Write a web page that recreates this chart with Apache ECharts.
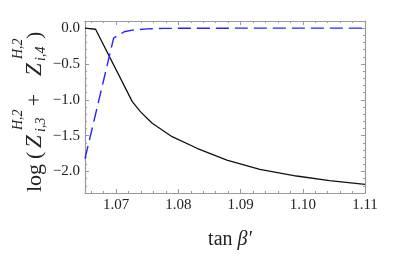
<!DOCTYPE html>
<html>
<head>
<meta charset="utf-8">
<script src="https://cdn.jsdelivr.net/npm/echarts@6/dist/echarts.min.js"></script>
<style>
html,body{margin:0;padding:0;background:#fff;}
#chart{width:399px;height:265px;}
</style>
</head>
<body>
<div id="chart"></div>
<script>
// ---- data ----
var blackX = [1.065, 1.0667, 1.0726, 1.0739, 1.0758, 1.0790, 1.0830, 1.0878, 1.0931, 1.0990, 1.1043, 1.1100];
var blackY = [0.0, -0.015, -1.025, -1.165, -1.327, -1.514, -1.676, -1.840, -1.970, -2.063, -2.128, -2.180];
var blueX = [1.065, 1.0673, 1.0696, 1.0704, 1.0713, 1.0726, 1.0750, 1.0776, 1.0820, 1.0900, 1.1000, 1.1100];
var blueY = [-1.82, -0.98, -0.14, -0.094, -0.05, -0.028, -0.010, -0.003, -0.001, 0.0, 0.0, 0.0];
var xMajorTicks = [1.07, 1.08, 1.09, 1.10, 1.11];
var xTickLabels = ['1.07', '1.08', '1.09', '1.10', '1.11'];
var yMajorTicks = [0.0, -0.5, -1.0, -1.5, -2.0];
var yTickLabels = ['0.0', '\u22120.5', '\u22121.0', '\u22121.5', '\u22122.0'];
var xRange = [1.065, 1.11];
var yRange = [-2.3, 0.1];

// minor tick positions (axis decoration)
var xMinorTicks = [];
for (var i = 533; i <= 555; i++) xMinorTicks.push(+(i * 0.002).toFixed(3));
var yMinorTicks = [];
for (var j = -23; j <= 1; j++) yMinorTicks.push(+(j * 0.1).toFixed(1));

function zip(a, b) { return a.map(function (v, k) { return [v, b[k]]; }); }

var frameColor = '#9a9a9a';
var textColor = '#222';
var serifFont = '"Liberation Serif", serif';

function xAxisDef(pos, ticks, len, showLine, showLabel) {
  return {
    type: 'value', position: pos, min: xRange[0], max: xRange[1],
    axisLine: { show: showLine, onZero: false, lineStyle: { color: frameColor, width: 1.2 } },
    axisTick: { show: true, inside: true, length: len, customValues: ticks, lineStyle: { color: frameColor, width: 1 } },
    axisLabel: {
      show: showLabel, customValues: xMajorTicks, margin: 5,
      color: textColor, fontFamily: 'Liberation Serif', fontSize: 15,
      formatter: function (v) {
        var k = xMajorTicks.findIndex(function (t) { return Math.abs(t - v) < 1e-6; });
        return k >= 0 ? xTickLabels[k] : '';
      }
    },
    splitLine: { show: false }, minorTick: { show: false }
  };
}
function yAxisDef(pos, ticks, len, showLine, showLabel) {
  return {
    type: 'value', position: pos, min: yRange[0], max: yRange[1],
    axisLine: { show: showLine, onZero: false, lineStyle: { color: frameColor, width: 1.2 } },
    axisTick: { show: true, inside: true, length: len, customValues: ticks, lineStyle: { color: frameColor, width: 1 } },
    axisLabel: {
      show: showLabel, customValues: yMajorTicks, margin: 5,
      color: textColor, fontFamily: 'Liberation Serif', fontSize: 15,
      formatter: function (v) {
        var k = yMajorTicks.findIndex(function (t) { return Math.abs(t - v) < 1e-6; });
        return k >= 0 ? yTickLabels[k] : '';
      }
    },
    splitLine: { show: false }, minorTick: { show: false }
  };
}

var chart = echarts.init(document.getElementById('chart'), null, { renderer: 'canvas' });

var baseY = 0;
var supY = -19.5, subY = 4;
function t(str, x, y, size, italic, align) {
  return {
    type: 'text', x: x, y: y,
    style: {
      text: str, fill: textColor,
      font: (italic ? 'italic ' : '') + size + 'px ' + serifFont,
      textAlign: align || 'left', textVerticalAlign: 'bottom', verticalAlign: 'bottom'
    }
  };
}
// bottom-aligned text: shift y by descent so baseline sits at y
function bt(str, x, y, size, italic, align) { return t(str, x, y + size * 0.22, size, italic, align); }

var option = {
  animation: false,
  backgroundColor: '#fff',
  grid: { left: 85, right: 34, top: 21, bottom: 72, containLabel: false, outerBoundsMode: 'none' },
  xAxis: [
    xAxisDef('bottom', xMajorTicks, 4, true, true),
    xAxisDef('bottom', xMinorTicks, 2, false, false),
    xAxisDef('top', xMajorTicks, 4, true, false),
    xAxisDef('top', xMinorTicks, 2, false, false)
  ],
  yAxis: [
    yAxisDef('left', yMajorTicks, 4, true, true),
    yAxisDef('left', yMinorTicks, 2, false, false),
    yAxisDef('right', yMajorTicks, 4, true, false),
    yAxisDef('right', yMinorTicks, 2, false, false)
  ],
  series: [
    {
      type: 'line', xAxisIndex: 0, yAxisIndex: 0, data: zip(blackX, blackY),
      showSymbol: false, symbol: 'none', smooth: false,
      lineStyle: { color: '#111', width: 1.3 }, z: 3
    },
    {
      type: 'line', xAxisIndex: 0, yAxisIndex: 0, data: zip(blueX, blueY),
      showSymbol: false, symbol: 'none', smooth: false,
      lineStyle: { color: '#2424ff', width: 1.4, type: [13, 6] }, z: 4
    }
  ],
  graphic: [
    {
      type: 'group', x: 41.5, y: 192, rotation: Math.PI / 2,
      children: [
        bt('log', 0, baseY, 22, false),
        bt('(', 33, baseY, 22, false),
        bt('Z', 44, baseY, 23, true),
        bt('H,2', 62, supY, 14, true),
        bt('i,3', 60, subY, 14, true),
        bt('+', 92, baseY, 22, false, 'center'),
        bt('Z', 116, baseY, 23, true),
        bt('H,2', 133, supY, 14, true),
        bt('i,4', 131, subY, 14, true),
        bt(')', 153, baseY, 22, false)
      ]
    },
    {
      type: 'text', x: 230, y: 245 + 20 * 0.22,
      style: {
        text: '{a|tan }{b|\u03B2\u2032}', textAlign: 'center', verticalAlign: 'bottom', textVerticalAlign: 'bottom',
        rich: {
          a: { fontFamily: 'Liberation Serif', fontSize: 20, fill: textColor, color: textColor },
          b: { fontFamily: 'Liberation Serif', fontSize: 20, fontStyle: 'italic', fill: textColor, color: textColor }
        }
      }
    }
  ]
};
chart.setOption(option);
</script>
</body>
</html>
